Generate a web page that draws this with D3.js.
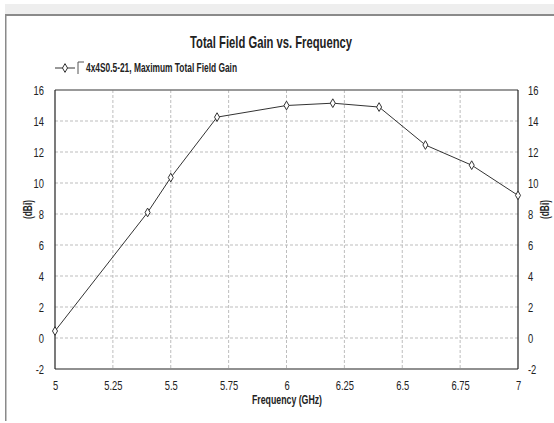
<!DOCTYPE html>
<html>
<head>
<meta charset="utf-8">
<script src="https://cdn.jsdelivr.net/npm/d3@7"></script>
<style>
  body { margin: 0; background: #fff; }
  text { font-family: "Liberation Sans Narrow", "Arial Narrow", "Liberation Sans", Arial, sans-serif; fill: #222; }
</style>
</head>
<body>
<div id="chart"></div>
<script>
var freqs = [5, 5.4, 5.5, 5.7, 6.0, 6.2, 6.4, 6.6, 6.8, 7.0];
var gains = [0.45, 8.1, 10.35, 14.25, 15.0, 15.15, 14.9, 12.45, 11.15, 9.2];
var xTicks = [5, 5.25, 5.5, 5.75, 6, 6.25, 6.5, 6.75, 7];
var yTicks = [-2, 0, 2, 4, 6, 8, 10, 12, 14, 16];
var seriesName = "4x4S0.5-21, Maximum Total Field Gain";

var w = 554, h = 423;
var svg = d3.select("#chart").append("svg")
  .attr("width", w)
  .attr("height", h);

// window frame
svg.append("rect").attr("x", 5).attr("y", 4).attr("width", w - 5).attr("height", 11).attr("fill", "#eeeeee");
svg.append("rect").attr("x", 5).attr("y", 14).attr("width", w - 5).attr("height", 2).attr("fill", "#8a8a8a");
svg.append("rect").attr("x", 5).attr("y", 16).attr("width", 1.5).attr("height", h - 18).attr("fill", "#8a8a8a");

var x = d3.scaleLinear().domain([5, 7]).range([55, 518]);
var y = d3.scaleLinear().domain([-2, 16]).range([369, 90]);

// grid
svg.append("g").selectAll("line")
  .data(xTicks.slice(1, -1))
  .enter().append("line")
  .attr("x1", function(d) { return x(d); })
  .attr("x2", function(d) { return x(d); })
  .attr("y1", y(16)).attr("y2", y(-2))
  .attr("stroke", "#bdbdbd").attr("stroke-dasharray", "3,2");
svg.append("g").selectAll("line")
  .data(yTicks.slice(1, -1))
  .enter().append("line")
  .attr("y1", function(d) { return y(d); })
  .attr("y2", function(d) { return y(d); })
  .attr("x1", x(5)).attr("x2", x(7))
  .attr("stroke", "#bdbdbd").attr("stroke-dasharray", "3,2");

// axes (labels squeezed horizontally to mimic a narrow font)
var fmt = function(d) { return String(d); };
var sq = 0.75;
var gx = svg.append("g").attr("transform", "translate(0," + y(-2) + ")")
  .call(d3.axisBottom(x).tickValues(xTicks).tickFormat(fmt).tickSize(0).tickPadding(12));
var gl = svg.append("g").attr("transform", "translate(" + x(5) + ",0)")
  .call(d3.axisLeft(y).tickValues(yTicks).tickFormat(fmt).tickSize(0).tickPadding(11 / sq));
var gr = svg.append("g").attr("transform", "translate(" + x(7) + ",0)")
  .call(d3.axisRight(y).tickValues(yTicks).tickFormat(fmt).tickSize(0).tickPadding(10 / sq));
[gx, gl, gr].forEach(function(g) {
  g.select(".domain").remove();
  g.selectAll("text").style("font-size", "12.5px").attr("fill", "#222")
    .attr("transform", "scale(" + sq + ",1)")
    .style("font-family", "'Liberation Sans Narrow', 'Arial Narrow', 'Liberation Sans', sans-serif");
});

// plot border
svg.append("line").attr("x1", x(5)).attr("x2", x(7)).attr("y1", y(16)).attr("y2", y(16))
  .attr("stroke", "#777").attr("stroke-width", 1.5);
svg.append("line").attr("x1", x(5)).attr("x2", x(5)).attr("y1", y(16)).attr("y2", y(-2))
  .attr("stroke", "#222").attr("stroke-width", 1.2);
svg.append("line").attr("x1", x(7)).attr("x2", x(7)).attr("y1", y(16)).attr("y2", y(-2))
  .attr("stroke", "#222").attr("stroke-width", 1.2);
svg.append("line").attr("x1", x(5)).attr("x2", x(7)).attr("y1", y(-2)).attr("y2", y(-2))
  .attr("stroke", "#222").attr("stroke-width", 1.2);

// series
var pts = freqs.map(function(f, i) { return [f, gains[i]]; });
var line = d3.line()
  .x(function(d) { return x(d[0]); })
  .y(function(d) { return y(d[1]); });
svg.append("path").datum(pts)
  .attr("d", line)
  .attr("fill", "none")
  .attr("stroke", "#333")
  .attr("stroke-width", 1);

var diamond = d3.symbol().type(d3.symbolDiamond).size(22);
svg.selectAll(".pt").data(pts).enter().append("path")
  .attr("class", "pt")
  .attr("d", diamond)
  .attr("transform", function(d) { return "translate(" + x(d[0]) + "," + y(d[1]) + ")"; })
  .attr("fill", "#fff")
  .attr("stroke", "#333")
  .attr("stroke-width", 1);

// title & labels
svg.append("text").attr("x", 190).attr("y", 48)
  .attr("textLength", 162).attr("lengthAdjust", "spacingAndGlyphs")
  .style("font-size", "17px").style("font-weight", "bold")
  .text("Total Field Gain vs. Frequency");

svg.append("text").attr("x", 252).attr("y", 404)
  .attr("textLength", 70).attr("lengthAdjust", "spacingAndGlyphs")
  .style("font-size", "12.5px").style("font-weight", "bold")
  .text("Frequency (GHz)");

svg.append("text")
  .attr("transform", "translate(32,219) rotate(-90)")
  .attr("textLength", 19).attr("lengthAdjust", "spacingAndGlyphs")
  .style("font-size", "12px").style("font-weight", "bold")
  .text("(dBi)");
svg.append("text")
  .attr("transform", "translate(549,219) rotate(-90)")
  .attr("textLength", 19).attr("lengthAdjust", "spacingAndGlyphs")
  .style("font-size", "12px").style("font-weight", "bold")
  .text("(dBi)");

// legend
var lg = svg.append("g");
lg.append("line").attr("x1", 55).attr("x2", 75).attr("y1", 68).attr("y2", 68)
  .attr("stroke", "#333");
lg.append("path").attr("d", diamond).attr("transform", "translate(65,68)")
  .attr("fill", "#fff").attr("stroke", "#333");
lg.append("path").attr("d", "M78,74 L78,62 L84,62")
  .attr("fill", "none").attr("stroke", "#555");
lg.append("text").attr("x", 86).attr("y", 72)
  .attr("textLength", 151).attr("lengthAdjust", "spacingAndGlyphs")
  .style("font-size", "12.5px").style("font-weight", "bold")
  .text(seriesName);
</script>
</body>
</html>
